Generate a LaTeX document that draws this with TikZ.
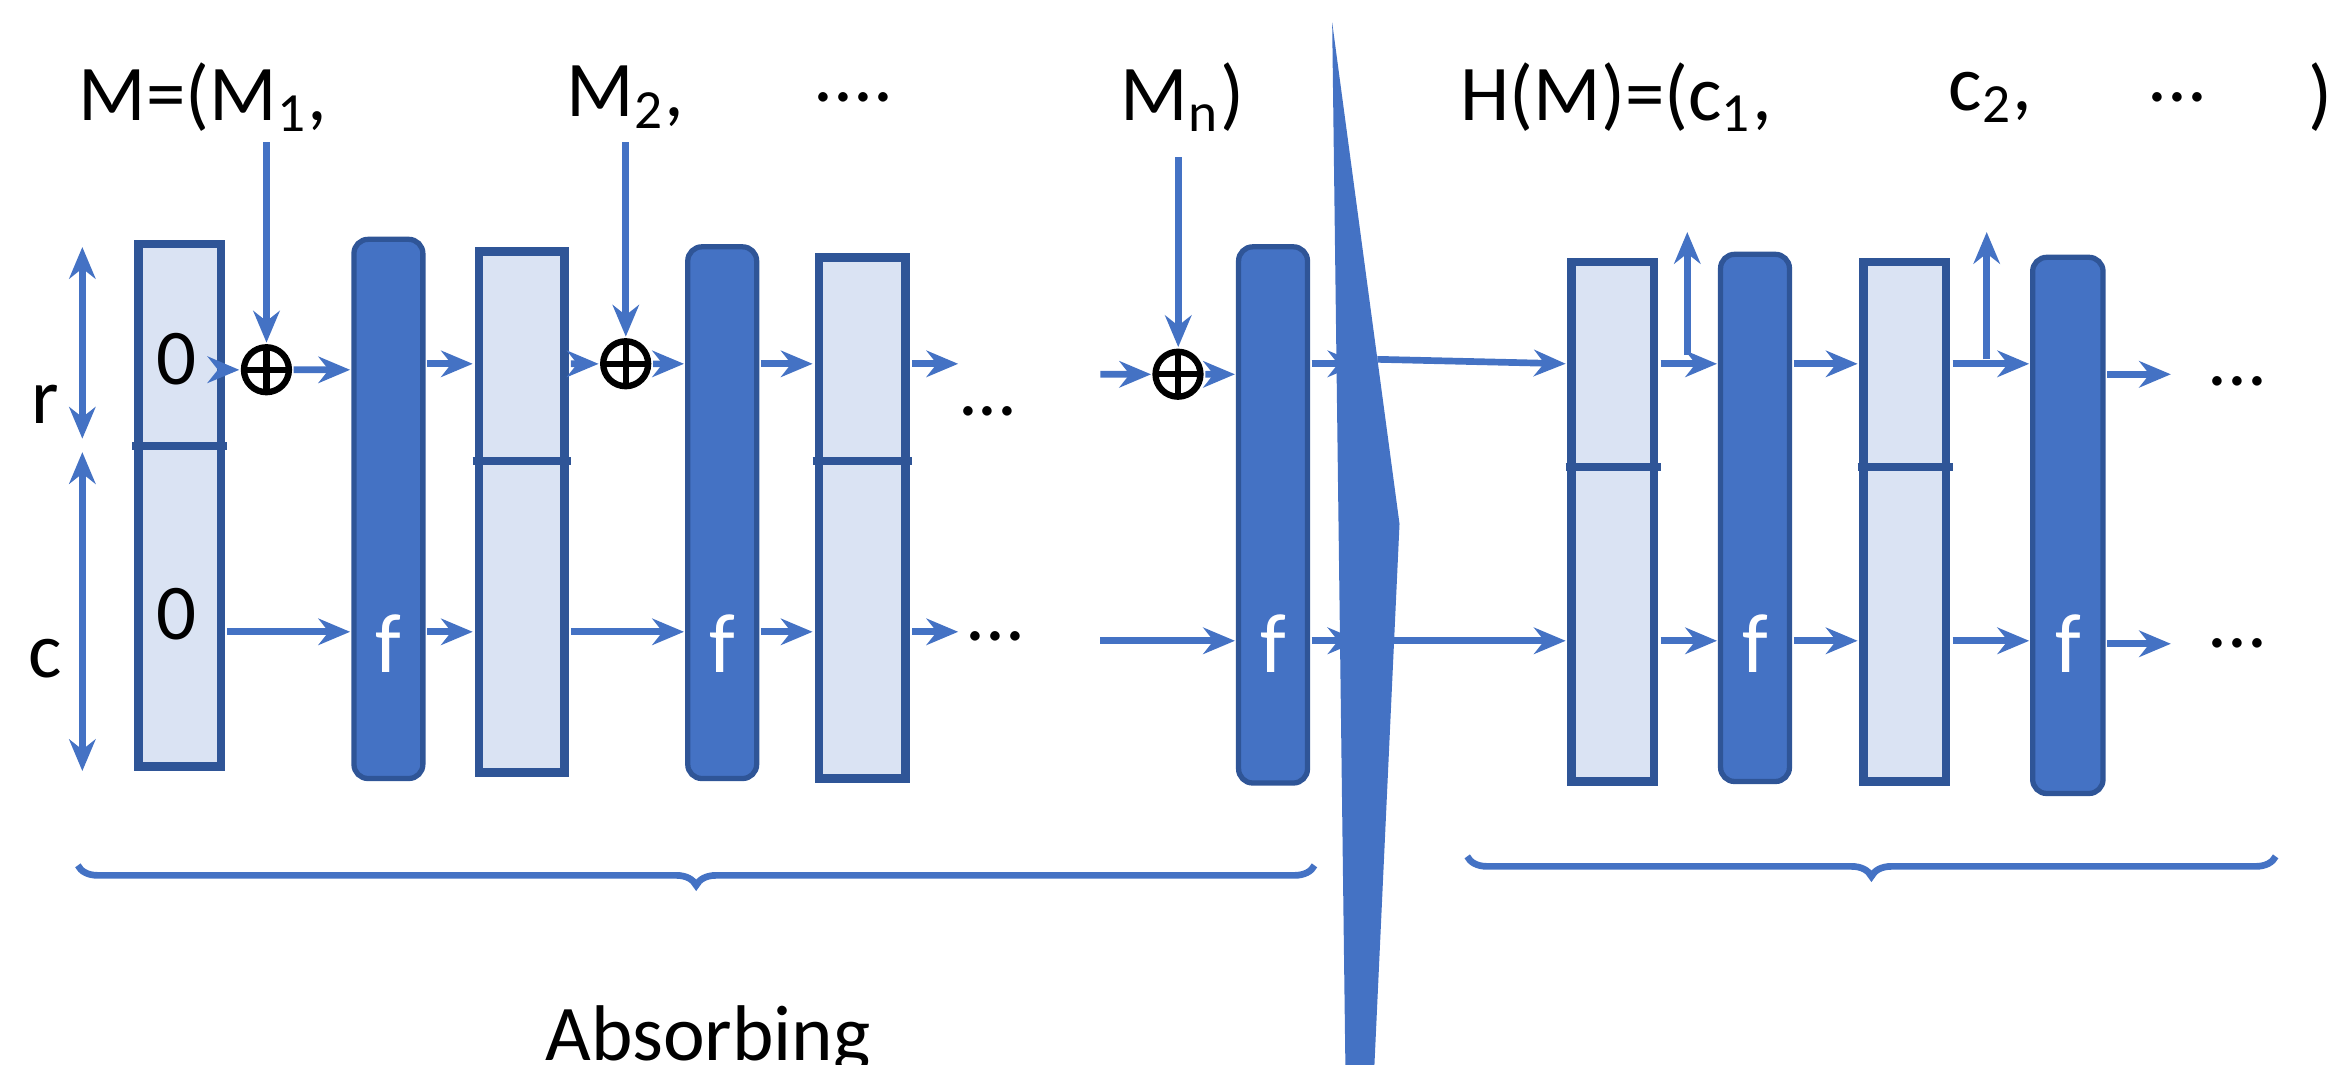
\documentclass[tikz,border=0pt]{standalone}
\usepackage{fontspec}
\setmainfont{Carlito}
\usetikzlibrary{decorations.pathreplacing,arrows.meta}
\definecolor{dk}{HTML}{4472C4}
\definecolor{lt}{HTML}{DAE3F3}
\definecolor{bd}{HTML}{2F5597}
\tikzset{
 lbox/.style={draw=bd,fill=lt,line width=2.4pt,minimum width=0.55cm,inner sep=0},
 fbox/.style={draw=bd,fill=dk,line width=1.5pt,rounded corners=4pt,minimum width=0.46cm,inner sep=0},
 a/.style={draw=dk,line width=1.9pt,-{Stealth[length=9pt,width=7.5pt]}},
 da/.style={draw=dk,line width=1.9pt,{Stealth[length=9pt,width=7.5pt]}-{Stealth[length=9pt,width=7.5pt]}},
 xo/.style={circle,draw=black,line width=1.8pt,minimum size=0.3cm,inner sep=0,
   path picture={\draw[line width=1.8pt] (path picture bounding box.north)--(path picture bounding box.south) (path picture bounding box.west)--(path picture bounding box.east);}},
 lab/.style={font=\fontsize{15}{18}\selectfont,inner sep=0},
 ft/.style={text=white,font=\fontsize{16}{18}\selectfont,inner sep=0},
 br/.style={draw=dk,line width=1.9pt,decorate,decoration={brace,mirror,amplitude=0.2cm}}
}
\begin{document}
\begin{tikzpicture}[x=0.01cm,y=-0.01cm,scale=1.497,transform shape]
\useasboundingbox (0,0) rectangle (1560,711.5);
\coordinate (r) at (0,243);
\coordinate (c) at (0,422);
% boxes
\node[lbox,minimum height=3.49cm] (b1) at (120,337.5) {};
\draw[bd,line width=2.4pt] (b1.west|-0,298) -- (b1.east|-0,298);
\node[lbox,minimum height=3.48cm,minimum width=0.57cm] (b2) at (348.5,342) {};
\draw[bd,line width=2.4pt] (b2.west|-0,308) -- (b2.east|-0,308);
\node[lbox,minimum height=3.48cm,minimum width=0.58cm] (b3) at (576,346) {};
\draw[bd,line width=2.4pt] (b3.west|-0,308) -- (b3.east|-0,308);
\node[lbox,minimum height=3.47cm] (b4) at (1077.5,348.5) {};
\draw[bd,line width=2.4pt] (b4.west|-0,312) -- (b4.east|-0,312);
\node[lbox,minimum height=3.47cm] (b5) at (1272.5,348.5) {};
\draw[bd,line width=2.4pt] (b5.west|-0,312) -- (b5.east|-0,312);
\node[fbox,minimum height=3.6cm] (f1) at (259.5,340) {};
\node[fbox,minimum height=3.55cm] (f2) at (482.5,342.5) {};
\node[fbox,minimum height=3.58cm] (f3) at (850.5,344) {};
\node[fbox,minimum height=3.52cm] (f4) at (1172.5,346) {};
\node[fbox,minimum height=3.58cm,minimum width=0.47cm] (f5) at (1381.5,351) {};
\foreach \f in {f1,f2,f3,f4,f5}{\node[ft] at (\f|-0,430) {f};}
\node[lab] at (118,240) {0};
\node[lab] at (118,410) {0};
% xors
\node[xo] (o1) at (178,247) {};
\node[xo] (o2) at (418,243) {};
\node[xo] (o3) at (787,250) {};
% labels
\node[lab,anchor=west] (m1) at (52,65) {M=(M\textsubscript{1},};
\node[lab] (m2) at (418,65) {M\textsubscript{2},};
\node[lab] at (570,65) {....};
\node[lab] (mn) at (790,65) {M\textsubscript{n})};
\node[lab,anchor=west] at (975,65) {H(M)=(c\textsubscript{1},};
\node[lab] at (1330,65) {c\textsubscript{2},};
\node[lab] at (1455,65) {...};
\node[lab] at (1550,65) {)};
\node[lab] at (30,270) {r};
\node[lab] at (30,440) {c};
\node[lab] at (660,275) {...};
\node[lab] at (665,425) {...};
\node[lab] at (1495,255) {...};
\node[lab] at (1495,430) {...};
\node[lab] at (473,695) {Absorbing};
\node[lab] at (1250,760) {Squeezing};
% input arrows
\coordinate (i1) at (178,95); \coordinate (i2) at (418,95); \coordinate (i3) at (787,105);
\draw[a] (i1) -- (o1.north);
\draw[a] (i2) -- (o2.north);
\draw[a] (i3) -- (o3.north);
\coordinate (u1) at (1127,237); \coordinate (u1e) at (1127,155);
\coordinate (u2) at (1327,240); \coordinate (u2e) at (1327,155);
\draw[a] (u1) -- (u1e);
\draw[a] (u2) -- (u2e);
% r/c dimension arrows
\coordinate (r1) at (55,165); \coordinate (r2) at (55,293);
\coordinate (c1) at (55,302); \coordinate (c2) at (55,515);
\draw[da] (r1) -- (r2);
\draw[da] (c1) -- (c2);
% top row
\draw[a] (b1.east|-o1) -- (o1);
\draw[a] (o1) -- (f1.west|-o1);
\draw[a] (f1.east|-r) -- (b2.west|-r);
\draw[a] (b2.east|-o2) -- (o2);
\draw[a] (o2) -- (f2.west|-o2);
\draw[a] (f2.east|-r) -- (b3.west|-r);
\coordinate (t1) at (640,243); \coordinate (t2) at (735,250);
\draw[a] (b3.east|-r) -- (t1);
\draw[a] (t2) -- (o3);
\draw[a] (o3) -- (f3.west|-o3);
\coordinate (t3) at (908,243); \coordinate (t4) at (920,240);
\draw[a] (f3.east|-r) -- (t3);
\draw[a] (t4) -- (b4.west|-0,243);
\draw[a] (b4.east|-r) -- (f4.west|-r);
\draw[a] (f4.east|-r) -- (b5.west|-r);
\draw[a] (b5.east|-r) -- (f5.west|-r);
\coordinate (t5) at (1450,250);
\draw[a] (f5.east|-t5) -- (t5);
% bottom row
\draw[a] (b1.east|-c) -- (f1.west|-c);
\draw[a] (f1.east|-c) -- (b2.west|-c);
\draw[a] (b2.east|-c) -- (f2.west|-c);
\draw[a] (f2.east|-c) -- (b3.west|-c);
\coordinate (s1) at (640,422); \coordinate (s2) at (735,428);
\draw[a] (b3.east|-c) -- (s1);
\draw[a] (s2) -- (f3.west|-s2);
\coordinate (s3) at (908,428); \coordinate (s4) at (920,428);
\draw[a] (f3.east|-s3) -- (s3);
\draw[a] (s4) -- (b4.west|-s4);
\draw[a] (b4.east|-s4) -- (f4.west|-s4);
\draw[a] (f4.east|-s4) -- (b5.west|-s4);
\draw[a] (b5.east|-s4) -- (f5.west|-s4);
\coordinate (s5) at (1450,430);
\draw[a] (f5.east|-s5) -- (s5);
% wedge
\fill[dk] (890,15) -- (935,350) -- (903,1040) -- cycle;
% braces
\coordinate (L1) at (52,578); \coordinate (L2) at (878,578);
\coordinate (R1) at (980,572); \coordinate (R2) at (1520,572);
\draw[br] (L1) -- (L2);
\draw[br] (R1) -- (R2);
\end{tikzpicture}
\end{document}
